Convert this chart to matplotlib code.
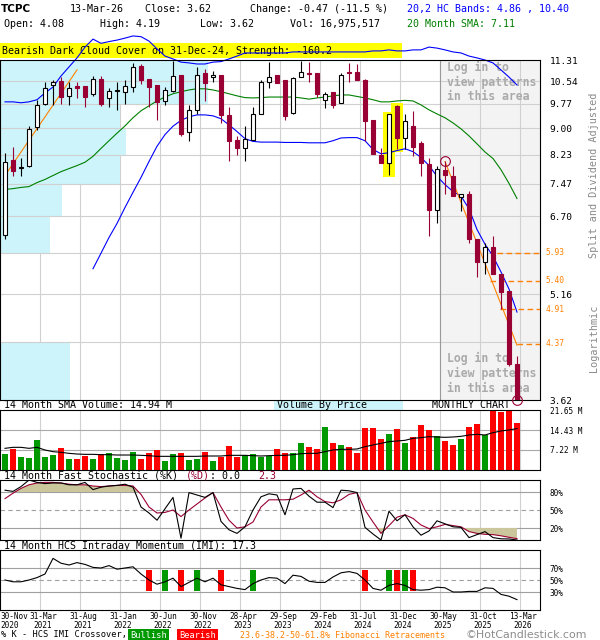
import numpy as np
import matplotlib
matplotlib.use('Agg')
import matplotlib.pyplot as plt
import matplotlib.transforms as mtransforms
from matplotlib.patches import Rectangle
from matplotlib.ticker import NullLocator

plt.rcParams['font.family'] = ['DejaVu Sans Mono']

W, H = 600, 640

# monthly candles, 30-Nov-2020 .. 13-Mar-2026
opens = [6.29, 8.10, 7.88, 7.92, 9.03, 9.77, 10.40, 10.54, 10.04, 10.36,
         10.36, 10.10, 10.60, 9.95, 10.20, 10.17, 10.33, 11.08, 10.60, 10.40,
         9.86, 10.21, 10.76, 8.90, 9.57, 10.82, 10.68, 10.76, 9.41, 8.66,
         8.41, 8.64, 9.44, 10.50, 10.76, 10.58, 9.46, 10.68, 10.84, 10.84,
         9.90, 10.15, 9.80, 10.87, 10.86, 10.58, 9.24, 8.24, 8.00, 9.69,
         8.72, 9.07, 8.57, 7.99, 6.84, 7.83, 7.68, 7.14, 7.23, 6.21,
         5.75, 6.04, 5.52, 5.21, 4.08]
highs = [8.28, 8.44, 8.14, 9.07, 9.90, 10.50, 10.58, 10.70, 10.50, 10.50,
         10.37, 10.72, 10.72, 10.30, 10.50, 10.58, 11.20, 11.16, 10.62, 10.40,
         10.33, 11.28, 10.76, 9.73, 11.04, 10.97, 10.91, 10.76, 9.67, 8.78,
         9.07, 9.67, 10.58, 11.25, 10.76, 10.58, 10.68, 11.28, 11.25, 10.84,
         10.17, 10.15, 10.84, 11.18, 11.16, 10.62, 9.24, 8.41, 9.44, 9.73,
         9.44, 9.52, 8.63, 8.14, 7.92, 8.05, 7.92, 7.23, 7.28, 6.21,
         6.12, 6.27, 5.52, 5.21, 4.19]
lows = [6.20, 7.66, 7.68, 7.91, 8.95, 9.74, 9.74, 9.75, 9.74, 9.95,
        9.67, 10.04, 9.70, 9.67, 9.57, 9.76, 10.17, 10.44, 9.67, 9.26,
        9.74, 10.17, 8.77, 8.61, 9.44, 9.86, 10.50, 9.16, 8.05, 8.23,
        8.05, 8.64, 9.44, 10.31, 10.48, 9.24, 9.44, 10.68, 10.50, 10.00,
        9.62, 9.62, 9.80, 10.50, 10.58, 8.63, 8.26, 8.00, 7.69, 8.38,
        8.38, 8.20, 7.68, 6.27, 6.56, 7.21, 7.17, 6.81, 6.13, 5.46,
        5.52, 5.52, 4.91, 4.06, 3.62]
closes = [8.03, 7.80, 7.90, 8.97, 9.74, 10.30, 10.50, 9.98, 10.30, 10.31,
          10.00, 10.60, 9.77, 10.20, 10.22, 10.36, 11.06, 10.56, 10.33, 9.83,
          10.23, 10.72, 8.82, 9.57, 10.76, 10.48, 10.76, 9.41, 8.63, 8.41,
          8.68, 9.44, 10.50, 10.68, 10.48, 9.38, 10.64, 10.86, 10.78, 10.10,
          10.10, 9.74, 10.76, 10.82, 10.58, 9.21, 8.26, 8.00, 9.44, 8.70,
          9.22, 8.44, 8.00, 6.84, 7.85, 7.70, 7.17, 7.23, 6.20, 5.74,
          6.04, 5.52, 5.20, 4.09, 3.62]

# volume, millions of shares
volumes = [5.77, 7.58, 4.69, 4.33, 10.83, 4.69, 5.41, 7.94, 3.97, 3.97,
           5.05, 3.97, 5.77, 6.13, 4.33, 3.61, 6.50, 3.97, 6.13, 7.22,
           3.25, 5.77, 6.13, 3.61, 3.97, 6.50, 3.25, 4.80, 8.66, 4.69,
           5.41, 5.77, 4.80, 5.05, 7.58, 6.13, 6.13, 9.74, 8.30, 7.58,
           15.52, 9.74, 9.02, 8.30, 6.13, 15.16, 15.16, 11.19, 12.99, 14.80,
           9.74, 11.90, 16.24, 14.44, 12.27, 10.47, 9.02, 11.19, 15.52, 16.60,
           12.63, 23.00, 20.93, 22.50, 16.98]
vol_sma = [7.82, 8.18, 8.18, 7.82, 8.18, 7.22, 6.62, 6.38, 6.01, 5.77,
           5.65, 5.65, 5.53, 5.53, 5.41, 5.41, 5.41, 5.29, 5.17, 4.93,
           4.93, 4.93, 4.93, 4.93, 4.93, 5.05, 5.05, 5.05, 5.29, 5.29,
           5.29, 5.17, 5.05, 5.17, 5.29, 5.29, 5.53, 5.89, 6.01, 6.01,
           6.62, 7.22, 7.46, 7.46, 7.58, 8.42, 9.02, 9.62, 10.23, 10.47,
           10.71, 11.43, 11.67, 12.03, 11.91, 11.79, 11.91, 12.15, 12.63, 12.87,
           12.63, 13.47, 14.08, 14.44, 14.94]

# 20,2 HC bands and 20 month SMA
upper_band = [9.83, 9.83, 9.80, 9.83, 9.90, 10.13, 10.33, 10.72, 11.05, 11.39,
              11.81, 12.13, 11.96, 12.03, 12.09, 12.17, 12.26, 12.23, 12.05, 11.74,
              11.46, 11.35, 11.23, 11.20, 11.16, 11.16, 11.23, 11.25, 11.35, 11.46,
              11.58, 11.58, 11.58, 11.58, 11.58, 11.58, 11.62, 11.62, 11.62, 11.62,
              11.62, 11.62, 11.62, 11.62, 11.62, 11.62, 11.66, 11.66, 11.70, 11.66,
              11.66, 11.70, 11.70, 11.81, 11.77, 11.70, 11.62, 11.58, 11.46, 11.39,
              11.31, 11.20, 10.94, 10.68, 10.40]
lower_band = [None] * 11 + [
              5.62, 5.92, 6.24, 6.54, 6.90, 7.26, 7.63, 8.05, 8.47,
              8.81, 9.06, 9.24, 9.35, 9.41, 9.41, 9.38, 9.29, 9.10, 8.90,
              8.69, 8.61, 8.59, 8.59, 8.59, 8.58, 8.58, 8.58, 8.57, 8.57,
              8.57, 8.63, 8.71, 8.72, 8.72, 8.63, 8.38, 8.26, 8.29, 8.35,
              8.40, 8.32, 8.16, 7.94, 7.66, 7.45, 7.28, 7.17, 6.87, 6.41,
              6.10, 5.86, 5.56, 5.25, 4.86]
sma20 = [7.33, 7.35, 7.38, 7.40, 7.50, 7.58, 7.68, 7.78, 7.86, 7.94,
         8.03, 8.19, 8.41, 8.63, 8.85, 9.07, 9.32, 9.54, 9.70, 9.86,
         9.99, 10.10, 10.17, 10.23, 10.27, 10.27, 10.23, 10.17, 10.10, 10.03,
         9.97, 9.96, 9.97, 9.99, 9.99, 9.99, 9.99, 9.96, 9.92, 9.96,
         9.99, 10.03, 10.06, 10.06, 10.01, 9.96, 9.90, 9.83, 9.83, 9.86,
         9.88, 9.86, 9.73, 9.57, 9.44, 9.32, 9.16, 8.98, 8.77, 8.54,
         8.31, 8.13, 7.83, 7.48, 7.11]

stoch_k = [83, 81, 89, 100, 96, 94, 95, 95, 92, 92,
           96, 84, 88, 90, 91, 93, 88, 55, 45, 33,
           52, 71, 3, 79, 75, 71, 79, 31, 17, 11,
           22, 50, 72, 77, 75, 42, 85, 86, 73, 63,
           63, 54, 83, 82, 79, 21, 10, 0, 48, 32,
           42, 22, 8, 15, 32, 27, 22, 21, 4, 9,
           14, 4, 2, 1.7, 0]
stoch_d = [69, 78, 86, 92, 95, 96, 96, 95, 93, 92,
           92, 90, 89, 90, 91, 91, 90, 76, 55, 45,
           46, 50, 39, 50, 60, 70, 79, 55, 33, 20,
           22, 30, 55, 67, 67, 67, 68, 75, 83, 72,
           64, 62, 67, 76, 79, 50, 30, 11, 24, 38,
           42, 36, 25, 19, 22, 26, 24, 22, 14, 11,
           9.5, 9, 7, 4.5, 2.3]
imi = [50, 47, 47, 50, 54, 60, 86, 78, 75, 79,
       76, 71, 70, 74, 68, 70, 72, 60, 50, 43,
       47, 53, 39, 46, 53, 47, 53, 42, 39, 36,
       34, 44, 50, 54, 53, 44, 58, 56, 48, 46,
       46, 55, 62, 64, 61, 50, 36, 33, 41, 44,
       41, 34, 33, 34, 38, 37, 30, 30, 31, 31,
       37, 36, 26, 23, 17.3]
bullish_idx = [20, 24, 31, 48, 50]
bearish_idx = [18, 22, 27, 45, 49, 51]

price_levels = [11.31, 10.54, 9.77, 9.00, 8.23, 7.47, 6.70, 5.93, 5.16, 4.39, 3.62]
price_labels = ['11.31', '10.54', '9.77', '9.00', '8.23', '7.47', '6.70', '', '5.16', '', '3.62']
# volume by price, percent of chart width per price bin (top bin first)
vbp_pct = [38.5, 38.5, 22.2, 23.3, 22.2, 11.5, 9.3, 0, 0, 13.0]

fib_levels = [5.93, 5.40, 4.91, 4.37]
fib_start = [61.5, 60.6, 61.9, 64.0]
trend_early = ([-0.1, 9.0], [7.65, 10.94])
trend_late = ([55, 64], [8.05, 4.35])
pattern_idx = [48, 49]

date_idx = [0, 4, 9, 14, 19, 24, 29, 34, 39, 44, 49, 54, 59, 64]
date_labels = ['30-Nov\n2020', '31-Mar\n2021', '31-Aug\n2021', '31-Jan\n2022',
               '30-Jun\n2022', '30-Nov\n2022', '28-Apr\n2023', '29-Sep\n2023',
               '29-Feb\n2024', '31-Jul\n2024', '31-Dec\n2024', '30-May\n2025',
               '31-Oct\n2025', '13-Mar\n2026']

DARK = '#990033'
BLUE = '#0000ff'
GREEN = '#008000'
ORANGE = '#ff8000'
CYAN = '#ccf4fa'
VGREEN = '#009900'
VRED = '#ff0000'
GRID = '#d0d0d0'

x = np.arange(len(opens))
o, h, l, c = (np.array(a, dtype=float) for a in (opens, highs, lows, closes))
up = c >= o
XMIN, XMAX = -0.625, 66.875
grid_x = np.array(date_idx[1:]) + 0.375

fig = plt.figure(figsize=(W / 100, H / 100), dpi=100)


def ftext(px, py, s, **kw):
    kw.setdefault('fontsize', 7.2)
    kw.setdefault('va', 'center')
    return fig.text(px / W, 1 - py / H, s, **kw)


def frect(x0, y0, x1, y1, color, zorder=-2):
    fig.add_artist(Rectangle((x0 / W, 1 - y1 / H), (x1 - x0) / W, (y1 - y0) / H,
                             transform=fig.transFigure, color=color, lw=0, zorder=zorder))


def panel(x0, y0, x1, y1):
    a = fig.add_axes([x0 / W, 1 - y1 / H, (x1 - x0) / W, (y1 - y0) / H])
    a.set_xlim(XMIN, XMAX)
    for s in a.spines.values():
        s.set_linewidth(0.8)
        s.set_color('black')
    a.tick_params(axis='x', bottom=False, labelbottom=False)
    a.yaxis.tick_right()
    a.tick_params(axis='y', length=0, pad=7, labelsize=5.6)
    for gx in grid_x:
        a.axvline(gx, color=GRID, lw=0.8, zorder=0.3)
    return a


# ---------------- header
ftext(1, 9, 'TCPC', fontsize=7.5, fontweight='bold', family='DejaVu Sans')
ftext(70, 9, '13-Mar-26')
ftext(145, 9, 'Close: 3.62')
ftext(250, 9, 'Change: -0.47 (-11.5 %)')
ftext(407, 9, '20,2 HC Bands: 4.86 , 10.40', color=BLUE)
ftext(4, 24, 'Open: 4.08')
ftext(100, 24, 'High: 4.19')
ftext(200, 24, 'Low: 3.62')
ftext(290, 24, 'Vol: 16,975,517')
ftext(407, 24, '20 Month SMA: 7.11', color=GREEN)

frect(0, 43, 402, 58, '#ffff00')
ftext(2, 50.5, 'Bearish Dark Cloud Cover on 31-Dec-24, Strength: -160.2', zorder=-1)

# ---------------- main price panel
ax = panel(0, 60, 540, 400)
ax.set_yscale('log')
ax.set_ylim(3.62, 11.31)
ax.yaxis.set_minor_locator(NullLocator())
ax.set_yticks(price_levels)
ax.set_yticklabels(price_labels)
ax.tick_params(axis='y', labelsize=6.8, pad=7)
for lv in price_levels[1:-1]:
    ax.axhline(lv, color=GRID, lw=0.8, zorder=0.6)

lv = np.array(price_levels)
ax.barh(lv[1:], np.array(vbp_pct) / 100 * (XMAX - XMIN), height=lv[:-1] - lv[1:],
        left=XMIN, align='edge', color=CYAN, lw=0, zorder=0.4)

ax.axvspan(grid_x[-3], XMAX, color='#f3f3f3', lw=0, zorder=0.2)
ax.axvline(grid_x[-3], color='#9a9a9a', lw=0.8, zorder=0.7)
tx = (grid_x[-3] + 0.85 - XMIN) / (XMAX - XMIN)
for ty, s in [(67, 'Log in to'), (82, 'view patterns'), (97, 'in this area'),
              (358, 'Log in to'), (373, 'view patterns'), (388, 'in this area')]:
    ax.text(tx, 1 - (ty - 60) / 340, s, transform=ax.transAxes, va='center',
            fontsize=8.3, fontweight='bold', color='#aaaaaa', zorder=1)

for i in pattern_idx:
    ax.add_patch(Rectangle((i - 0.69, l[i] * 0.993), 1.38, h[i] * 1.007 - l[i] * 0.993,
                           color='#ffff00', lw=0, zorder=2))

ax.plot(x, upper_band, color=BLUE, lw=0.8, zorder=2.5, clip_on=False)
ax.plot(x, np.array(lower_band, dtype=float), color=BLUE, lw=0.8, zorder=2.5)
ax.plot(x, sma20, color=GREEN, lw=0.8, zorder=2.5)
ax.plot(*trend_early, color=ORANGE, lw=0.8, zorder=2.6)
ax.plot(*trend_late, color=ORANGE, lw=0.8, zorder=2.6)

ax.vlines(x[up], l[up], h[up], color='black', lw=0.8, zorder=3)
ax.vlines(x[~up], l[~up], h[~up], color=DARK, lw=0.8, zorder=3)
body_lo = np.minimum(o, c)
body_h = np.maximum(np.abs(c - o), 0.01)
ax.bar(x[up], body_h[up], bottom=body_lo[up], width=0.62, facecolor='white',
       edgecolor='black', lw=0.8, zorder=4)
ax.bar(x[~up], body_h[~up], bottom=body_lo[~up], width=0.62, facecolor=DARK,
       edgecolor=DARK, lw=0.8, zorder=4)

ax.plot([55, 64], [h[55], l[64]], 'o', ms=7, mfc='none', mec=DARK, mew=0.8,
        zorder=5, clip_on=False)

fib_tr = mtransforms.blended_transform_factory(ax.transAxes, ax.transData)
for fl, fs in zip(fib_levels, fib_start):
    ax.plot([fs, XMAX], [fl, fl], color=ORANGE, lw=1.0, ls=(0, (4, 2.5)), zorder=2.6)
    ax.text(1.01, fl, f'{fl:.2f}', transform=fib_tr, color=ORANGE, fontsize=5.7,
            va='center', ha='left', clip_on=False)

ftext(594, 175, 'Split and Dividend Adjusted', rotation=90, ha='center',
      color='#8a8a8a', fontsize=7.3)
ftext(594, 338, 'Logarithmic', rotation=90, ha='center', color='#8a8a8a', fontsize=7.3)

# ---------------- volume panel
ftext(4, 405.5, '14 Month SMA Volume: 14.94 M')
frect(274, 401, 403, 410, CYAN)
ftext(277, 405.5, 'Volume By Price', zorder=-1)
ftext(432, 405, 'MONTHLY CHART')

axv = panel(0, 410, 540, 470)
axv.set_ylim(0, 21.65)
axv.set_yticks([7.22, 14.43, 21.65], ['7.22 M', '14.43 M', '21.65 M'])
for yv in (7.22, 14.43):
    axv.axhline(yv, color='#a8a8a8', lw=0.8, zorder=0.5)
axv.bar(x, volumes, width=0.75, color=np.where(up, VGREEN, VRED), lw=0, zorder=2)
axv.plot(x, vol_sma, color='black', lw=0.8, zorder=3)

# ---------------- stochastic panel
ftext(4, 476, '14 Month Fast Stochastic (%K)')
ftext(186, 476, '(%D)', color=DARK)
ftext(210, 476, ': 0.0')
ftext(258, 476, '2.3', color=DARK)

axs = panel(0, 480, 540, 540)
axs.set_ylim(0, 100)
axs.set_yticks([20, 50, 80], ['20%', '50%', '80%'])
axs.axhline(80, color='#a0a0a0', lw=0.8, zorder=0.5)
axs.axhline(20, color='#a0a0a0', lw=0.8, zorder=0.5)
axs.axhline(50, color='#a0a0a0', lw=0.8, ls=(0, (4, 3)), zorder=0.5)
sd = np.array(stoch_d, dtype=float)
axs.fill_between(x, sd, 80, where=sd > 80, interpolate=True, color='#cbc69b', lw=0, zorder=1)
axs.fill_between(x, sd, 20, where=sd < 20, interpolate=True, color='#cbc69b', lw=0, zorder=1)
axs.plot(x, stoch_d, color=DARK, lw=0.8, zorder=2)
axs.plot(x, stoch_k, color='black', lw=0.8, zorder=3)

# ---------------- IMI panel
ftext(4, 546, '14 Month HCS Intraday Momentum (IMI): 17.3')

axi = panel(0, 550, 540, 610)
axi.set_ylim(0, 100)
axi.set_yticks([30, 50, 70], ['30%', '50%', '70%'])
axi.axhline(70, color='#a0a0a0', lw=0.8, zorder=0.5)
axi.axhline(30, color='#a0a0a0', lw=0.8, zorder=0.5)
axi.axhline(50, color='#a0a0a0', lw=0.8, ls=(0, (4, 3)), zorder=0.5)
axi.bar(bullish_idx, 35, bottom=32, width=0.8, color=VGREEN, lw=0, zorder=1)
axi.bar(bearish_idx, 35, bottom=32, width=0.8, color=VRED, lw=0, zorder=1)
axi.plot(x, imi, color='black', lw=0.8, zorder=2)

tick_pos = [XMIN + 0.02] + [i + 0.75 for i in date_idx[1:]]
axi.set_xticks(tick_pos, date_labels)
axi.tick_params(axis='x', bottom=True, labelbottom=True, length=0, pad=1.2,
                labelsize=5.6)
for t in axi.get_xticklabels():
    t.set_linespacing(1.05)
axi.get_xticklabels()[0].set_ha('left')

# ---------------- footer legend
ftext(1, 635, '% K - HCS IMI Crossover,', fontsize=6.2)
ftext(130, 635, 'Bullish', fontsize=6.2, color='white',
      bbox=dict(facecolor=VGREEN, edgecolor='none', pad=1.4))
ftext(179, 635, 'Bearish', fontsize=6.2, color='white',
      bbox=dict(facecolor=VRED, edgecolor='none', pad=1.4))
ftext(240, 635, '23.6-38.2-50-61.8% Fibonacci Retracements', fontsize=6.0, color=ORANGE)
ftext(466, 635.5, '\u00a9HotCandlestick.com', fontsize=7.9, color='#8c8c8c',
      family='DejaVu Sans')

fig.savefig('out.png', dpi=100)
